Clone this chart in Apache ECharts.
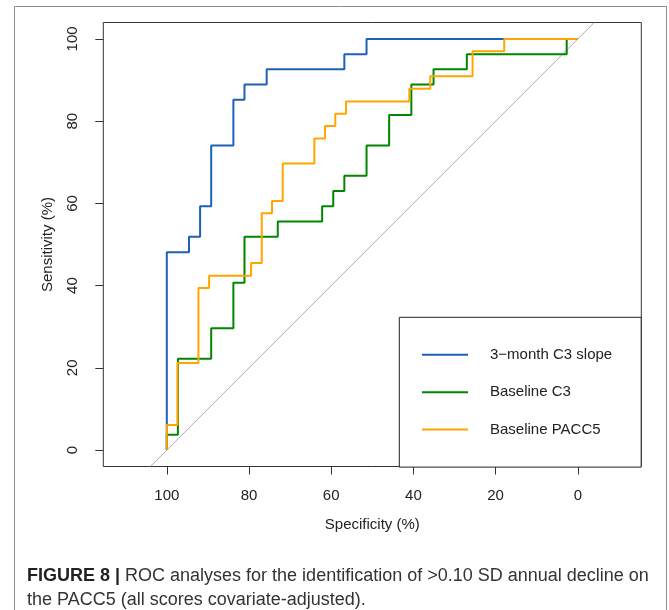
<!DOCTYPE html>
<html>
<head>
<meta charset="utf-8">
<script src="https://cdn.jsdelivr.net/npm/echarts@6/dist/echarts.min.js"></script>
<style>
html,body{margin:0;padding:0;background:#fff;}
#c{width:669px;height:610px;}
</style>
</head>
<body>
<div id="c"></div>
<script>
// ---- data (ROC coordinates, %) ----
var seriesNames = ['3\u2212month C3 slope', 'Baseline C3', 'Baseline PACC5'];
var slopeSpec = [100,100,94.6,94.6,91.9,91.9,89.2,89.2,83.8,83.8,81.1,81.1,75.7,75.7,56.8,56.8,51.4,51.4,0];
var slopeSens = [0,48.1,48.1,51.9,51.9,59.3,59.3,74.1,74.1,85.2,85.2,88.9,88.9,92.6,92.6,96.3,96.3,100,100];
var c3Spec = [100,100,97.3,97.3,89.2,89.2,83.8,83.8,81.1,81.1,73.0,73.0,62.2,62.2,59.5,59.5,56.8,56.8,51.4,51.4,45.9,45.9,40.5,40.5,35.1,35.1,27.0,27.0,2.7,2.7,0];
var c3Sens = [0,3.7,3.7,22.2,22.2,29.6,29.6,40.7,40.7,51.9,51.9,55.6,55.6,59.3,59.3,63.0,63.0,66.7,66.7,74.1,74.1,81.5,81.5,88.9,88.9,92.6,92.6,96.3,96.3,100,100];
var paccSpec = [100,100,97.4,97.4,92.3,92.3,89.7,89.7,79.5,79.5,76.9,76.9,74.4,74.4,71.8,71.8,64.1,64.1,61.5,61.5,59.0,59.0,56.4,56.4,41.0,41.0,35.9,35.9,25.6,25.6,17.9,17.9,0];
var paccSens = [0,6.1,6.1,21.2,21.2,39.4,39.4,42.4,42.4,45.5,45.5,57.6,57.6,60.6,60.6,69.7,69.7,75.8,75.8,78.8,78.8,81.8,81.8,84.8,84.8,87.9,87.9,90.9,90.9,97.0,97.0,100,100];
var diagSpec = [104, -4];
var diagSens = [-4, 104];
var tickValues = [0, 20, 40, 60, 80, 100];
var xTitle = 'Specificity (%)';
var yTitle = 'Sensitivity (%)';
var captionBold = 'FIGURE 8 |';
var captionLine1 = ' ROC analyses for the identification of >0.10 SD annual decline on';
var captionLine2 = 'the PACC5 (all scores covariate-adjusted).';

function zip(a, b) { return a.map(function (v, i) { return [v, b[i]]; }); }

var FONT = '"Liberation Sans", Arial, Helvetica, sans-serif';
var colors = ['#1c61b6', '#008600', '#FFA500'];

var chart = echarts.init(document.getElementById('c'), null, {renderer: 'canvas'});
chart.setOption({
  animation: false,
  backgroundColor: '#fff',
  textStyle: {fontFamily: FONT},
  grid: {left: 103.3, top: 22.5, width: 538, height: 444, show: true,
         borderColor: '#333', borderWidth: 1, backgroundColor: 'transparent'},
  xAxis: {
    type: 'value', inverse: true, min: -15.45, max: 115.45,
    name: xTitle, nameLocation: 'middle', nameGap: 51,
    nameTextStyle: {fontSize: 15, color: '#222', fontFamily: FONT},
    axisLine: {show: false, onZero: false},
    splitLine: {show: false},
    axisTick: {show: true, customValues: tickValues, length: 8, inside: false,
               lineStyle: {color: '#333', width: 1}},
    axisLabel: {customValues: tickValues, fontSize: 15, color: '#222', margin: 22, fontFamily: FONT}
  },
  yAxis: {
    type: 'value', min: -4, max: 104,
    name: yTitle, nameLocation: 'middle', nameGap: 48, nameRotate: 90,
    nameTextStyle: {fontSize: 15, color: '#222', fontFamily: FONT},
    axisLine: {show: false, onZero: false},
    splitLine: {show: false},
    axisTick: {show: true, customValues: tickValues, length: 8, inside: false,
               lineStyle: {color: '#333', width: 1}},
    axisLabel: {customValues: tickValues, fontSize: 15, color: '#222', margin: 23,
                rotate: 90, fontFamily: FONT}
  },
  legend: {
    data: seriesNames,
    orient: 'vertical',
    left: 399.3, top: 317.3,
    padding: [30, 29, 30, 21.7],
    itemWidth: 46, itemHeight: 15, itemGap: 22.4,
    backgroundColor: '#fff',
    borderColor: '#222', borderWidth: 1, borderRadius: 0,
    itemStyle: {opacity: 0, borderWidth: 0},
    lineStyle: {width: 2},
    textStyle: {fontSize: 15, color: '#222', padding: [0, 0, 0, 17], lineHeight: 15, fontFamily: FONT},
    selectedMode: false
  },
  graphic: [
    {type: 'rect', shape: {x: 14.5, y: 6.5, width: 652, height: 620},
     style: {fill: 'none', stroke: '#8c8c8c', lineWidth: 1}, silent: true, z: -1},
    {type: 'text', left: 27, top: 567, silent: true,
     style: {text: '{b|' + captionBold + '}{n|' + captionLine1 + '}',
             rich: {b: {fontSize: 18, fontWeight: 'bold', fill: '#222', fontFamily: FONT},
                    n: {fontSize: 18, fill: '#333', fontFamily: FONT}}}},
    {type: 'text', left: 27, top: 591, silent: true,
     style: {text: captionLine2, fontSize: 18, fill: '#333', fontFamily: FONT}}
  ],
  series: [
    {type: 'line', name: 'diag', data: zip(diagSpec, diagSens), symbol: 'none', silent: true,
     lineStyle: {color: '#a9a9a9', width: 1}, z: 1},
    {type: 'line', name: seriesNames[0], data: zip(slopeSpec, slopeSens), symbol: 'none',
     lineStyle: {color: colors[0], width: 2}, itemStyle: {color: colors[0]}, z: 2},
    {type: 'line', name: seriesNames[1], data: zip(c3Spec, c3Sens), symbol: 'none',
     lineStyle: {color: colors[1], width: 2}, itemStyle: {color: colors[1]}, z: 3},
    {type: 'line', name: seriesNames[2], data: zip(paccSpec, paccSens), symbol: 'none',
     lineStyle: {color: colors[2], width: 2}, itemStyle: {color: colors[2]}, z: 4}
  ]
});
</script>
</body>
</html>
